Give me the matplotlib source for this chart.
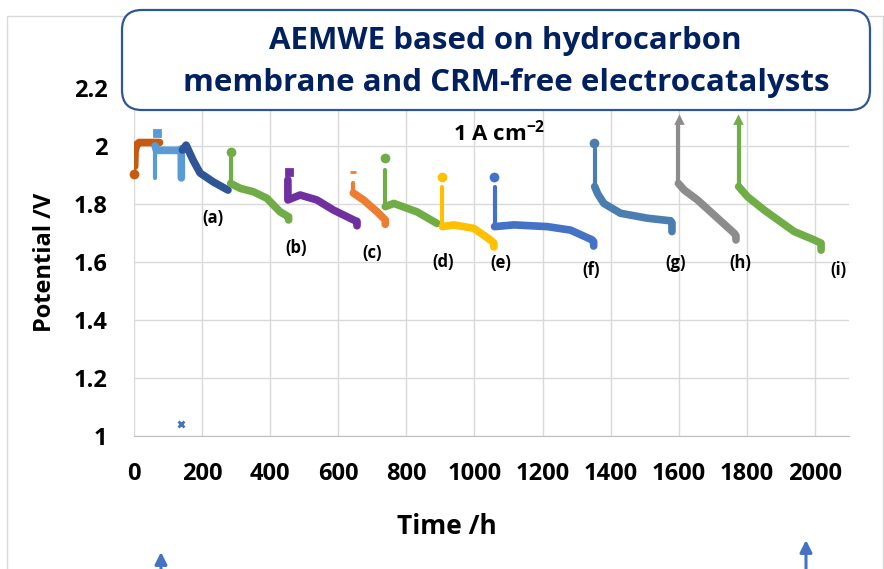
import matplotlib
matplotlib.use("Agg")
import matplotlib.pyplot as plt
from matplotlib.patches import FancyBboxPatch, Rectangle
from matplotlib.transforms import IdentityTransform

plt.rcParams['font.family'] = ['Open Sans', 'DejaVu Sans']
plt.rcParams['mathtext.fontset'] = 'custom'
plt.rcParams['mathtext.rm'] = 'Open Sans'
plt.rcParams['mathtext.bf'] = 'Open Sans:bold'

# ---- data (time in h, potential in V) ----
t_orange0 = [2, 3, 8, 15, 40, 75]
v_orange0 = [1.93, 1.98, 2.005, 2.012, 2.012, 2.012]

t_lblue = [62, 62, 66, 100, 135, 139, 139]
v_lblue = [1.89, 2.00, 1.985, 1.985, 1.985, 1.99, 1.89]

t_dblue = [142, 153, 174, 194, 233, 276]
v_dblue = [1.986, 2.003, 1.95, 1.907, 1.876, 1.848]

t_green_a = [284, 284, 312, 351, 390, 429, 454, 454]
v_green_a = [1.96, 1.871, 1.854, 1.842, 1.820, 1.773, 1.756, 1.745]

t_purple = [452, 452, 488, 537, 586, 645, 655, 655]
v_purple = [1.883, 1.814, 1.831, 1.814, 1.779, 1.745, 1.740, 1.725]

t_orange_c = [644, 644, 674, 714, 738, 738]
v_orange_c = [1.872, 1.838, 1.814, 1.773, 1.745, 1.730]

t_green_d = [738, 738, 763, 831, 890]
v_green_d = [1.918, 1.791, 1.802, 1.773, 1.733]

t_yellow = [906, 906, 939, 998, 1047, 1057, 1057]
v_yellow = [1.86, 1.722, 1.728, 1.716, 1.676, 1.665, 1.652]

t_blue_e = [1059, 1059, 1116, 1214, 1282, 1346, 1350, 1350]
v_blue_e = [1.86, 1.722, 1.728, 1.722, 1.710, 1.676, 1.670, 1.655]

t_steel = [1353, 1353, 1362, 1380, 1429, 1508, 1576, 1580, 1580]
v_steel = [1.99, 1.86, 1.835, 1.802, 1.768, 1.751, 1.742, 1.735, 1.705]

t_gray = [1599, 1599, 1616, 1655, 1763, 1768, 1768]
v_gray = [2.08, 1.871, 1.848, 1.814, 1.699, 1.690, 1.676]

t_green_h = [1776, 1776, 1802, 1851, 1939, 1998, 2018, 2018]
v_green_h = [2.08, 1.86, 1.825, 1.779, 1.705, 1.676, 1.665, 1.641]

# first points of each run (the spikes)
spike_t = [0, 68, 285, 454, 642, 738, 905, 1057, 1351, 1601, 1774, 138]
spike_v = [1.905, 2.045, 1.98, 1.911, 1.911, 1.958, 1.892, 1.894, 2.009, 2.09, 2.09, 1.04]
spike_marker = ['o', 's', 'o', 's', '_', 'o', 'o', 'o', 'o', '^', '^', 'x']

run_labels = ['(a)', '(b)', '(c)', '(d)', '(e)', '(f)', '(g)', '(h)', '(i)']
label_t = [232, 476, 700, 909, 1076, 1344, 1591, 1782, 2068]
label_v = [1.752, 1.648, 1.631, 1.600, 1.597, 1.572, 1.597, 1.597, 1.572]

x_ticks = [0, 200, 400, 600, 800, 1000, 1200, 1400, 1600, 1800, 2000]
y_ticks = [1, 1.2, 1.4, 1.6, 1.8, 2, 2.2]
y_ticklabels = ['1', '1.2', '1.4', '1.6', '1.8', '2', '2.2']

# (t, v, colour, run starts with a thin vertical spike)
runs = [
    (t_orange0, v_orange0, '#C55A11', False),
    (t_lblue, v_lblue, '#5B9BD5', True),
    (t_dblue, v_dblue, '#2F5597', False),
    (t_green_a, v_green_a, '#70AD47', True),
    (t_purple, v_purple, '#7030A0', False),
    (t_orange_c, v_orange_c, '#ED7D31', True),
    (t_green_d, v_green_d, '#70AD47', True),
    (t_yellow, v_yellow, '#FFC000', True),
    (t_blue_e, v_blue_e, '#4472C4', True),
    (t_steel, v_steel, '#4A7EB0', True),
    (t_gray, v_gray, '#8C8C8C', True),
    (t_green_h, v_green_h, '#70AD47', True),
]
spike_colors = ['#C55A11', '#5B9BD5', '#70AD47', '#7030A0', '#ED7D31', '#70AD47',
                '#FFC000', '#4472C4', '#4A7EB0', '#8C8C8C', '#70AD47', '#4472C4']

W, H = 884, 569
fig = plt.figure(figsize=(W / 100, H / 100), dpi=100)

# outer chart border
fig.patches.append(Rectangle((7 / W, -0.01), (883 - 7) / W, 1 - 16 / H + 0.01,
                             transform=fig.transFigure, fill=False,
                             edgecolor='#D9D9D9', lw=1))

ax = fig.add_axes([134 / W, 1 - 436 / H, (849 - 134) / W, (436 - 88) / H])
ax.set_xlim(0, 2100)
ax.set_ylim(1, 2.2)
for s in ['left', 'right', 'top']:
    ax.spines[s].set_visible(False)
ax.spines['bottom'].set_color('#BFBFBF')
ax.grid(True, color='#D9D9D9', lw=1)
ax.set_axisbelow(True)
ax.set_xticks(x_ticks)
ax.set_yticks(y_ticks)
ax.set_yticklabels(y_ticklabels)
ax.tick_params(length=0, labelsize=17, pad=19)
for lab in ax.get_xticklabels() + ax.get_yticklabels():
    lab.set_fontweight('bold')

for t, v, c, thin in runs:
    if thin:
        ax.plot(t[:2], v[:2], color=c, lw=3, solid_capstyle='round')
        ax.plot(t[1:], v[1:], color=c, lw=5.5, solid_capstyle='round',
                solid_joinstyle='round')
    else:
        ax.plot(t, v, color=c, lw=5.5, solid_capstyle='round', solid_joinstyle='round')

for t, v, m, c in zip(spike_t, spike_v, spike_marker, spike_colors):
    ax.plot(t, v, marker=m, color=c, ms=5, mew=2, ls='none', clip_on=False)

for lab, t, v in zip(run_labels, label_t, label_v):
    ax.text(t, v, lab, fontsize=12, fontweight='bold', ha='center', va='center')

ax.text(499 / W, 1 - 133 / H, '1 A cm$^{\\mathbf{-2}}$', transform=fig.transFigure,
        fontsize=16, fontweight='bold', ha='center', va='center')

fig.text(447 / W, 1 - 527 / H, 'Time /h', fontsize=19, fontweight='bold',
         ha='center', va='center')
fig.text(45 / W, 1 - 262 / H, 'Potential /V', fontsize=17, fontweight='bold',
         ha='center', va='center', rotation=90)

# title box (pixel coordinates)
fig.patches.append(FancyBboxPatch((122, H - 110), 870 - 122, 100,
                                  boxstyle='round,pad=0,rounding_size=20',
                                  transform=IdentityTransform(), facecolor='white',
                                  edgecolor='#2F5597', lw=1.6, zorder=5))
fig.text(505 / W, 1 - 41 / H, 'AEMWE based on hydrocarbon', fontsize=22.5,
         fontweight='bold', color='#002060', ha='center', va='center', zorder=6)
fig.text(506 / W, 1 - 83 / H, 'membrane and CRM-free electrocatalysts', fontsize=22.5,
         fontweight='bold', color='#002060', ha='center', va='center', zorder=6)

# arrows at the bottom
for x, tip in [(161, 552), (806, 540)]:
    ax.annotate('', xy=(x / W, 1 - tip / H), xytext=(x / W, -0.01),
                xycoords='figure fraction', textcoords='figure fraction',
                annotation_clip=False,
                arrowprops=dict(arrowstyle='-|>', color='#4472C4', lw=2.2,
                                mutation_scale=18, shrinkA=0, shrinkB=0))

fig.savefig('out.png', dpi=100)
